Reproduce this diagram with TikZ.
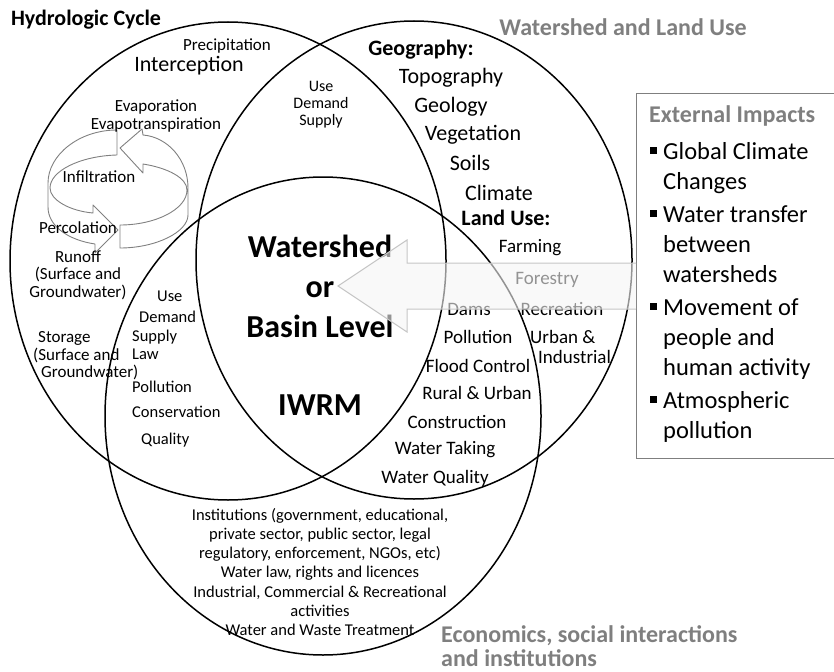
\documentclass[tikz,border=0pt]{standalone}
\usepackage{fontspec}
\setmainfont{Carlito}
\usetikzlibrary{shapes.geometric}
\definecolor{labelgray}{HTML}{7F7F7F}
\definecolor{ringgray}{HTML}{808080}
\newcommand{\fsz}[2]{\fontsize{#1}{#2}\selectfont}
\newcommand{\sqb}{\rule[5pt]{7pt}{7pt}\hspace{6pt}}

\begin{document}
\begin{tikzpicture}[x=1pt, y=-1pt,
venn/.style={draw, ellipse, line width=1.5pt, minimum width=436pt, minimum height=478pt, inner sep=0pt},
ring/.style={draw=ringgray, line width=0.9pt, line join=round},
bigarrow/.style={draw=gray!45, line width=1pt, fill=gray!8, fill opacity=0.6},
lbl/.style={inner sep=0pt, font=\fsz{17}{17.5}},
sml/.style={inner sep=0pt, font=\fsz{16}{17}},
geo/.style={inner sep=0pt, font=\fsz{22}{24}},
lu/.style={inner sep=0pt, font=\fsz{19}{20}},
head/.style={inner sep=0pt, font=\bfseries\fsz{22}{24}},
gtitle/.style={inner sep=0pt, font=\bfseries\fsz{24}{24}, text=labelgray},
core/.style={inner sep=0pt, font=\bfseries\fsz{32}{40}, align=center}]

\useasboundingbox (0,0) rectangle (834,671);

\node (hydro) [venn] at (228,261) {};
\node (shed) [venn] at (414,260) {};
\node (econ) [venn] at (323,416) {};

\draw[ring] (120,225) -- (120,248) .. controls (156,248) and (188,232) .. (188,215)
  -- (188,188) .. controls (188,160) and (168,137) .. (143,135) -- (142,129)
  -- (120,148) -- (143,173) -- (143,164) .. controls (168,168) and (187,178) .. (187,190)
  .. controls (187,209) and (156,225) .. (120,225) -- cycle;
\draw[ring] (117,130) -- (117,155) .. controls (80,156) and (50,171) .. (50,188)
  .. controls (50,200) and (70,211) .. (93,213) -- (93,205) -- (118,230) -- (95,253)
  -- (95,244) .. controls (68,240) and (48,226) .. (48,207) -- (48,183)
  .. controls (48,155) and (79,130) .. (117,130) -- cycle;

\node (hc) [head] at (86,20) {Hydrologic Cycle};
\node (wl) [gtitle] at (623,27) {Watershed and Land Use};
\node (prec) [lbl] at (227,46) {Precipitation};
\node (inter) [geo] at (189,66) {Interception};
\node (evap) [lbl, align=center] at (156,116) {Evaporation\\Evapotranspiration};
\node (infil) [lbl] at (99,177) {Infiltration};
\node (perc) [lbl] at (78,228) {Percolation};
\node (runoff) [lbl, align=center] at (78,275) {Runoff\\(Surface and\\Groundwater)};
\node (store) [lbl, align=left, anchor=west] at (33,356) {\hspace*{5pt}Storage\\(Surface and\\\hspace*{8pt}Groundwater)};
\node (uds) [sml, align=center] at (321,105) {Use\\Demand\\Supply};

\node (geog) [head] at (421,50) {Geography:};
\foreach \n/\x/\y/\t in {topo/451/78/Topography, geol/451/107/Geology, veg/473/135/Vegetation,
  soil/470/163/Soils, clim/499/193/Climate}
  \node (\n) [geo] at (\x,\y) {\t};
\node (land) [head] at (506,218) {Land Use:};
\foreach \n/\x/\y/\t in {farm/530/248/Farming, forest/547/280/Forestry, dams/469/309/Dams,
  recr/562/309/Recreation, poll/478/337/Pollution, flood/478/366/Flood Control,
  rural/477/393/Rural \& Urban, constr/457/422/Construction, taking/445/450/Water Taking,
  wq/435/478/Water Quality}
  \node (\n) [lu] at (\x,\y) {\t};
\node (urban) [lu, align=left, anchor=west] at (530,347) {Urban \&\\\hspace*{8pt}Industrial};

\foreach \n/\x/\y/\t in {use/157/296/Use, dem/139/317/Demand, sup/132/337/Supply, law/132/354/Law,
  pol/132/387/Pollution, cons/132/412/Conservation, qual/141/440/Quality}
  \node (\n) [sml, font=\fsz{16.5}{17}, anchor=west] at (\x,\y) {\t};

\node (basin) [core] at (320,286) {Watershed\\or\\Basin Level};
\node (iwrm) [core] at (320,405) {IWRM};

\node (inst) [inner sep=0pt, font=\fsz{16.5}{19.2}, align=center] at (320,572) {Institutions (government, educational,\\private sector, public sector, legal\\regulatory, enforcement, NGOs, etc)\\Water law, rights and licences\\Industrial, Commercial \& Recreational\\activities\\Water and Waste Treatment};
\node (eco) [gtitle, align=left, anchor=west] at (441,646) {Economics, social interactions\\and institutions};

\node (ext) [draw=labelgray, line width=1.2pt, fill=white, minimum width=200pt, minimum height=365pt, anchor=north west, inner sep=0pt] at (636,93) {};
\draw[bigarrow] (ext.west |- 0,263) -- (407,263) -- (407,240) -- (338,286) -- (407,332) -- (407,309) -- (ext.west |- 0,309);

\node (exttitle) [gtitle, anchor=west] at (649,116) {External Impacts};
\node (extlist) [inner sep=0pt, font=\fsz{24.5}{30}, align=left, anchor=west] at (650,292) {\sqb Global Climate\\\phantom{\sqb}Changes\\[3pt]
\sqb Water transfer\\\phantom{\sqb}between\\\phantom{\sqb}watersheds\\[3pt]
\sqb Movement of\\\phantom{\sqb}people and\\\phantom{\sqb}human activity\\[3pt]
\sqb Atmospheric\\\phantom{\sqb}pollution};

\end{tikzpicture}
\end{document}
